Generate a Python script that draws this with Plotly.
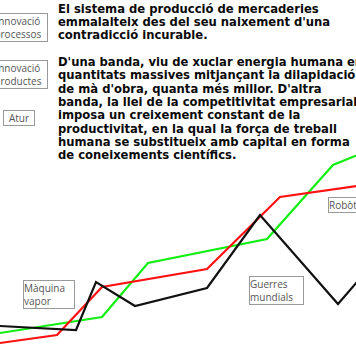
import plotly.graph_objects as go

# Series (x in chart units, y in chart units; y grows upward)
black_x = [0, 76, 96, 135, 207, 260, 338, 370]
black_y = [38, 34, 82, 58, 76, 149, 60, 97]
red_x = [0, 57, 102, 207, 280, 370]
red_y = [21, 29, 77, 95, 167, 180]
green_x = [0, 102, 148, 267, 333, 370]
green_y = [31, 47, 101, 125, 199, 214]

para1 = ["El sistema de producció de mercaderies",
         "emmalalteix des del seu naixement d'una",
         "contradicció incurable."]
para2 = ["D'una banda, viu de xuclar energia humana en",
         "quantitats massives mitjançant la dilapidació",
         "de mà d'obra, quanta més millor. D'altra",
         "banda, la llei de la competitivitat empresarial",
         "imposa un creixement constant de la",
         "productivitat, en la qual la força de treball",
         "humana se substitueix amb capital en forma",
         "de coneixements científics."]

legend_labels = ["Innovació<br>processos", "Innovació<br>productes", "Atur"]
event_labels = ["Màquina<br>vapor", "Guerres<br>mundials", "Robòtica"]

W, H = 356, 364
fig = go.Figure()
fig.add_trace(go.Scatter(x=green_x, y=green_y, mode="lines",
                         line=dict(color="#11ee11", width=2.2), showlegend=False))
fig.add_trace(go.Scatter(x=red_x, y=red_y, mode="lines",
                         line=dict(color="#ff1111", width=2.2), showlegend=False))
fig.add_trace(go.Scatter(x=black_x, y=black_y, mode="lines",
                         line=dict(color="#111111", width=2.2), showlegend=False))

ann = []
tf = dict(family="DejaVu Sans", size=11.6, color="#0a0a0a", weight="bold")
y0 = 8.5
for i, t in enumerate(para1):
    ann.append(dict(text=t, x=56 / W, y=1 - (y0 + i * 13.4) / H, xref="paper", yref="paper",
                    xanchor="left", yanchor="middle", showarrow=False, font=tf))
y1 = 62
for i, t in enumerate(para2):
    ann.append(dict(text=t, x=56 / W, y=1 - (y1 + i * 13.3) / H, xref="paper", yref="paper",
                    xanchor="left", yanchor="middle", showarrow=False, font=tf))

bf = dict(family="Open Sans", size=10, color="#555555")
box = dict(bordercolor="#999999", borderwidth=1, bgcolor="white", showarrow=False,
           xref="paper", yref="paper")
# legend-like boxes at left (cut off by the edge)
ann.append(dict(text=legend_labels[0], x=48 / W, y=1 - 28 / H, xanchor="right", yanchor="middle",
                width=58, align="center", borderpad=0, font=bf, **box))
ann.append(dict(text=legend_labels[1], x=48 / W, y=1 - 75 / H, xanchor="right", yanchor="middle",
                width=58, align="center", borderpad=0, font=bf, **box))
ann.append(dict(text=legend_labels[2], x=3 / W, y=1 - 118 / H, xanchor="left", yanchor="middle",
                width=30, align="center", borderpad=0, font=bf, **box))
# event boxes
ann.append(dict(text=event_labels[0], x=23 / W, y=1 - 294 / H, xanchor="left", yanchor="middle",
                width=50, align="left", borderpad=0, font=bf, **box))
ann.append(dict(text=event_labels[1], x=249 / W, y=1 - 290 / H, xanchor="left", yanchor="middle",
                width=53, align="left", borderpad=0, font=bf, **box))
ann.append(dict(text=event_labels[2], x=328 / W, y=1 - 205 / H, xanchor="left", yanchor="middle",
                width=54, align="left", borderpad=0, font=bf, **box))

fig.update_layout(
    width=W, height=H, margin=dict(l=0, r=0, t=0, b=0),
    paper_bgcolor="white", plot_bgcolor="white",
    xaxis=dict(range=[0, W], visible=False, fixedrange=True),
    yaxis=dict(range=[0, H], visible=False, fixedrange=True),
    annotations=ann,
)
fig.write_html("out.html", config={"displayModeBar": False},
               post_script="document.body.style.margin='0';document.body.style.overflow='hidden';")
